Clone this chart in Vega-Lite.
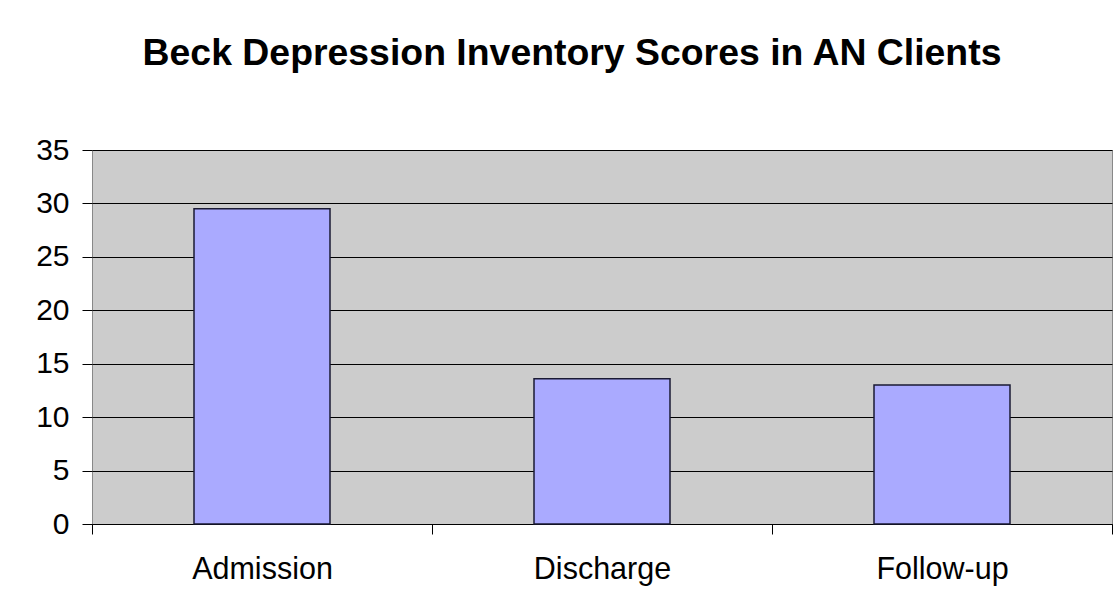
{
  "$schema": "https://vega.github.io/schema/vega-lite/v6.json",
  "autosize": "none",
  "width": 1020,
  "height": 374,
  "padding": {"left": 92, "top": 150, "right": 7, "bottom": 90},
  "background": "white",
  "title": {
    "text": "Beck Depression Inventory Scores in AN Clients",
    "font": "Liberation Sans",
    "fontSize": 37.4,
    "fontWeight": "bold",
    "color": "black",
    "anchor": "middle",
    "baseline": "alphabetic",
    "dx": -30,
    "offset": 33
  },
  "data": {
    "values": [
      {"stage": "Admission", "score": 29.5},
      {"stage": "Discharge", "score": 13.6},
      {"stage": "Follow-up", "score": 13.0}
    ]
  },
  "mark": {"type": "bar", "color": "#AAAAFF", "stroke": "#1a1a33", "strokeWidth": 1.5, "width": {"band": 0.4}},
  "encoding": {
    "x": {
      "field": "stage",
      "type": "nominal",
      "sort": null,
      "scale": {"paddingInner": 0, "paddingOuter": 0},
      "axis": {
        "title": null,
        "labelAngle": 0,
        "labelFont": "Liberation Sans",
        "labelFontSize": 30.5,
        "labelColor": "black",
        "labelBaseline": "alphabetic",
        "labelPadding": 44,
        "tickBand": "extent",
        "tickSize": 10,
        "tickColor": "black",
        "domainColor": "black",
        "grid": false
      }
    },
    "y": {
      "field": "score",
      "type": "quantitative",
      "scale": {"domain": [0, 35], "nice": false},
      "axis": {
        "title": null,
        "values": [0, 5, 10, 15, 20, 25, 30, 35],
        "labelFont": "Liberation Sans",
        "labelFontSize": 30,
        "labelColor": "black",
        "labelPadding": 13,
        "tickSize": 10,
        "tickColor": "black",
        "domain": false,
        "grid": true,
        "gridColor": "black",
        "gridWidth": 1,
        "gridOpacity": 1
      }
    }
  },
  "config": {
    "view": {"fill": "#CCCCCC", "stroke": "#888888", "strokeWidth": 1}
  }
}
